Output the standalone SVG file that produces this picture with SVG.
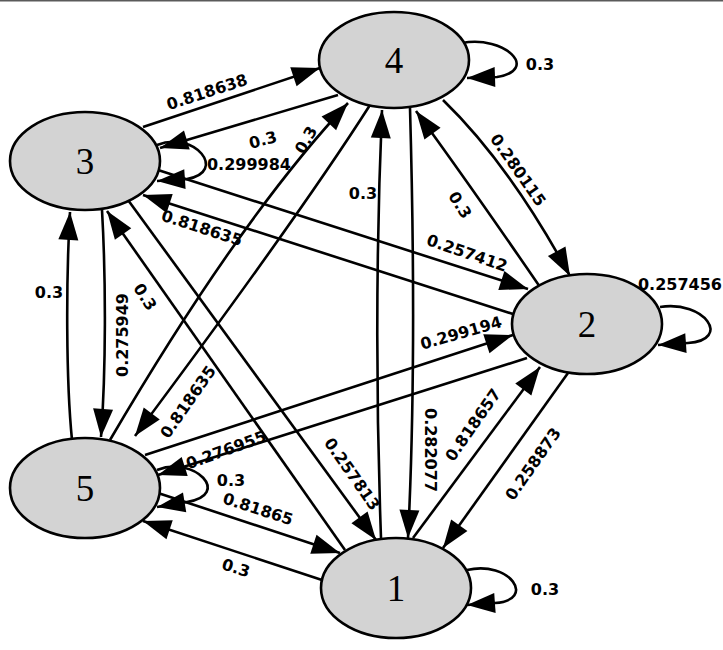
<svg xmlns="http://www.w3.org/2000/svg" width="723" height="650" viewBox="0 0 723 650">
<defs>
<marker id="ah" markerUnits="userSpaceOnUse" markerWidth="30" markerHeight="22" viewBox="-1 -1 30 22" refX="28" refY="10" orient="auto">
<path d="M0,0 L28,10 L0,20 z" fill="#000"/>
</marker>
<style>
.e{fill:none;stroke:#000;stroke-width:2.6;marker-end:url(#ah)}
.l{font-family:"DejaVu Sans",sans-serif;font-weight:bold;font-size:16px;fill:#000;text-anchor:middle;dominant-baseline:central}
.n ellipse{fill:#d3d3d3;stroke:#000;stroke-width:2.6}
.n text{font-family:"Liberation Serif",serif;font-size:37px;fill:#000;text-anchor:middle}
</style>
</defs>
<rect x="0" y="0" width="723" height="650" fill="#fff"/>
<rect x="0" y="0" width="723" height="1.5" fill="#5a5a5a"/>
<g id="edges">
<g id="e3_4"><path class="e" d="M143,127 L320,68"/><text class="l" transform="translate(207,92) rotate(-18)">0.818638</text></g>
<g id="e4_3"><path class="e" d="M338,95 L160,148"/><text class="l" transform="translate(263,140) rotate(-15)">0.3</text></g>
<g id="e3_3"><path class="e" d="M157,145 C195,130 228,172 187,179 L157,181"/><text class="l" x="249" y="164">0.299984</text></g>
<g id="e5_4"><path class="e" d="M110,440 Q240,218 348,103"/><text class="l" transform="translate(306,140) rotate(-60)">0.3</text></g>
<g id="e1_4"><path class="e" d="M381,538 C376,400 376,250 382,110"/><text class="l" x="363" y="193">0.3</text></g>
<g id="e2_4"><path class="e" d="M540,287 Q470,185 416,111"/><text class="l" transform="translate(460,205) rotate(58)">0.3</text></g>
<g id="e4_2"><path class="e" d="M443,100 Q510,165 570,276"/><text class="l" transform="translate(518,170) rotate(55)">0.280115</text></g>
<g id="e4_4"><path class="e" d="M462,43 C505,35 540,70 497,77 L467,78"/><text class="l" x="540" y="64">0.3</text></g>
<g id="e2_3"><path class="e" d="M513,314 L143,195"/><text class="l" transform="translate(202,228) rotate(18)">0.818635</text></g>
<g id="e3_2"><path class="e" d="M158,170 L528,289"/><text class="l" transform="translate(467,253) rotate(19)">0.257412</text></g>
<g id="e2_2"><path class="e" d="M660,307 C705,300 732,340 688,343 L658,345"/><text class="l" x="680" y="284">0.257456</text></g>
<g id="e5_3"><path class="e" d="M72,440 C66,380 66,280 70,212"/><text class="l" x="49" y="292">0.3</text></g>
<g id="e3_5"><path class="e" d="M102,210 C106,280 106,370 101,437"/><text class="l" transform="translate(122,335) rotate(-90)">0.275949</text></g>
<g id="e1_3"><path class="e" d="M345,550 L107,211"/><text class="l" transform="translate(145,297) rotate(57)">0.3</text></g>
<g id="e3_1"><path class="e" d="M128,200 L376,540"/><text class="l" transform="translate(352,474) rotate(55)">0.257813</text></g>
<g id="e4_5"><path class="e" d="M370,105 Q300,215 135,436"/><text class="l" transform="translate(188,402) rotate(-55)">0.818635</text></g>
<g id="e4_1"><path class="e" d="M410,108 C414,250 415,400 408,538"/><text class="l" transform="translate(430,450) rotate(90)">0.282077</text></g>
<g id="e5_2"><path class="e" d="M145,455 L513,335"/><text class="l" transform="translate(461,333) rotate(-16)">0.299194</text></g>
<g id="e2_5"><path class="e" d="M527,358 L158,475"/><text class="l" transform="translate(226,450) rotate(-20)">0.276955</text></g>
<g id="e1_2"><path class="e" d="M413,538 L540,367"/><text class="l" transform="translate(473,425) rotate(-55)">0.818657</text></g>
<g id="e2_1"><path class="e" d="M568,373 L443,548"/><text class="l" transform="translate(533,464) rotate(-55)">0.258873</text></g>
<g id="e5_5"><path class="e" d="M157,470 C195,455 232,495 187,502 L157,507"/><text class="l" x="231" y="480">0.3</text></g>
<g id="e5_1"><path class="e" d="M158,493 L340,553"/><text class="l" transform="translate(258,509) rotate(18)">0.81865</text></g>
<g id="e1_5"><path class="e" d="M322,580 L143,521"/><text class="l" transform="translate(236,568) rotate(17)">0.3</text></g>
<g id="e1_1"><path class="e" d="M467,570 C510,560 537,600 495,603 L467,605"/><text class="l" x="545" y="589">0.3</text></g>
</g>
<g id="node4" class="n"><ellipse cx="394" cy="60" rx="75" ry="48"/><text x="394" y="72.5">4</text></g>
<g id="node3" class="n"><ellipse cx="85" cy="161" rx="75" ry="49"/><text x="85" y="173.5">3</text></g>
<g id="node2" class="n"><ellipse cx="587" cy="324" rx="75" ry="50"/><text x="587" y="336.5">2</text></g>
<g id="node5" class="n"><ellipse cx="85" cy="488" rx="75" ry="50"/><text x="85" y="500.5">5</text></g>
<g id="node1" class="n"><ellipse cx="396" cy="588" rx="75" ry="50"/><text x="396" y="600.5">1</text></g>
</svg>
